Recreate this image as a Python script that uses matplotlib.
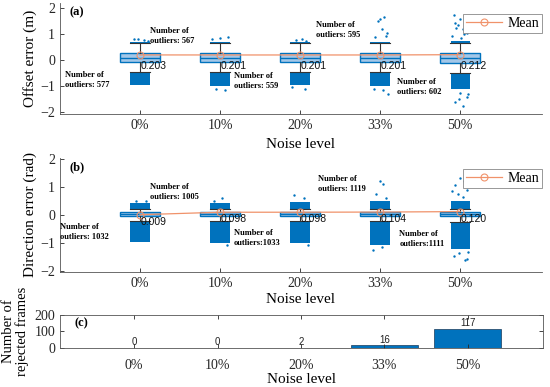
import numpy as np
import matplotlib.pyplot as plt

plt.rcParams['font.family'] = ['Liberation Serif', 'DejaVu Serif']
plt.rcParams['xtick.direction'] = 'in'
plt.rcParams['ytick.direction'] = 'in'

# ---- data ----
levels = ['0%', '10%', '20%', '33%', '50%']

# (a) offset error (m)
off_mean = [0.203, 0.201, 0.201, 0.201, 0.212]
off_q1 = [-0.08, -0.08, -0.08, -0.08, -0.09]
off_med = [0.09, 0.09, 0.09, 0.09, 0.09]
off_q3 = [0.26, 0.26, 0.26, 0.26, 0.26]
off_whislo = [-0.45, -0.45, -0.45, -0.45, -0.48]
off_whishi = [0.65, 0.65, 0.65, 0.65, 0.65]
off_up_lo = [0.65, 0.65, 0.65, 0.65, 0.65]
off_up_hi = [0.72, 0.72, 0.70, 0.72, 0.75]
off_dn_lo = [-0.97, -1.0, -0.96, -1.0, -1.1]
off_dn_hi = [-0.47, -0.47, -0.45, -0.45, -0.5]
off_n_out = ['577', '567', '559', '595', '602']
# sparse outliers: (category index, jitter, value)
off_sparse_cat = [0, 0, 0, 0, 1, 1, 1, 1, 1, 2, 2, 2, 2, 2,
                  3, 3, 3, 3, 3, 3, 3, 3, 3, 3,
                  4, 4, 4, 4, 4, 4, 4, 4, 4, 4, 4, 4, 4, 4, 4, 4, 4, 4]
off_sparse_dx = [-0.08, -0.02, 0.05, 0.1, -0.1, 0.0, 0.1, -0.05, 0.06, -0.05, 0.03, 0.08, 0.06, -0.1,
                 0.0, 0.05, -0.02, 0.09, 0.07, -0.06, 0.04, 0.1, -0.08, 0.02,
                 -0.08, 0.06, 0.0, 0.1, -0.03, 0.03, 0.08, -0.1, 0.05, -0.05, 0.0, 0.09, -0.07,
                 0.04, 0.1, -0.02, -0.06, 0.01]
off_sparse_y = [0.8, 0.82, 0.78, 0.75, 0.8, 0.85, 0.9, -1.1, -1.15, 0.78, 0.8, 0.75, -1.1, -1.05,
                1.6, 1.65, 1.5, 1.05, 0.95, 0.9, -1.15, -1.3, -1.1, 1.2,
                1.75, 1.7, 1.6, 1.5, 1.35, 1.2, 1.05, 0.95, 1.0, 1.25, -1.25, -1.4, -1.6,
                -1.75, -1.3, -1.5, 1.45, 0.85]

# (b) direction error (rad)
dir_mean = [0.009, 0.098, 0.098, 0.104, 0.120]
dir_q1 = [-0.04, -0.04, -0.04, -0.04, -0.05]
dir_med = [0.05, 0.05, 0.05, 0.05, 0.05]
dir_q3 = [0.11, 0.11, 0.11, 0.12, 0.12]
dir_whislo = [-0.2, -0.2, -0.2, -0.2, -0.25]
dir_whishi = [0.2, 0.2, 0.2, 0.2, 0.2]
dir_up_lo = [0.2, 0.2, 0.2, 0.2, 0.2]
dir_up_hi = [0.42, 0.42, 0.45, 0.48, 0.5]
dir_dn_lo = [-0.95, -1.0, -1.0, -1.05, -1.2]
dir_dn_hi = [-0.2, -0.2, -0.2, -0.2, -0.25]
dir_n_out = ['1032', '1005', '1033', '1119', '1111']
dir_sparse_cat = [0, 0, 1, 1, 1, 2, 2, 2, 3, 3, 3, 3, 3, 3,
                  4, 4, 4, 4, 4, 4, 4, 4, 4, 4, 4, 4]
dir_sparse_dx = [-0.05, 0.08, 0.02, -0.07, 0.09, -0.08, 0.05, 0.1, 0.0, 0.04, -0.05, 0.08, 0.02, -0.09,
                 0.0, 0.05, -0.06, 0.08, -0.03, 0.03, 0.1, -0.08, 0.06, -0.02, 0.09, -0.1]
dir_sparse_y = [0.5, 0.48, 0.6, 0.5, -1.05, 0.7, 0.6, -1.05, 1.2, 1.1, 0.75, 0.6, -1.15, -1.25,
                1.3, 1.2, 1.05, 0.9, 0.75, 0.65, -1.3, -1.45, -1.6, -1.35, -1.55, 0.85]

# (c) rejected frames
rejected = [0, 0, 2, 16, 117]

# ---- style ----
blue = '#0072BD'
light = '#a3c7e8'
orange = '#f0926a'
axcol = '#262626'

x = np.arange(1, len(levels) + 1)

fig = plt.figure(figsize=(5.5, 3.87), dpi=100)
ax_a = fig.add_axes([0.109, 0.705, 0.876, 0.287])
ax_b = fig.add_axes([0.109, 0.297, 0.876, 0.295])
ax_c = fig.add_axes([0.109, 0.101, 0.878, 0.085])


def draw_panel(ax, mean, q1, med, q3, wlo, whi, up_lo, up_hi, dn_lo, dn_hi,
               s_cat, s_dx, s_y, n_out, note_pos, ylabel, tag, lab_off, xlpad):
    stats = []
    for i in range(len(levels)):
        stats.append({'med': med[i], 'q1': q1[i], 'q3': q3[i],
                      'whislo': wlo[i], 'whishi': whi[i], 'fliers': []})
    # outlier clouds
    ax.bar(x, np.array(up_hi) - np.array(up_lo), bottom=up_lo, width=0.24,
           color=blue, zorder=1)
    ax.bar(x, np.array(dn_hi) - np.array(dn_lo), bottom=dn_lo, width=0.24,
           color=blue, zorder=1)
    ax.scatter(x[np.array(s_cat)] + np.array(s_dx), s_y, s=3, color=blue,
               linewidths=0, zorder=1)
    ax.bxp(stats, positions=x, widths=0.5, capwidths=0.25, patch_artist=True,
           showfliers=False,
           boxprops=dict(facecolor=light, edgecolor=blue, linewidth=1.0),
           medianprops=dict(color=blue, linewidth=1.0),
           whiskerprops=dict(color='#333333', linewidth=0.8),
           capprops=dict(color='#333333', linewidth=0.8), zorder=2)
    ax.plot(x, mean, color=orange, lw=0.9, marker='o', ms=5, mfc='none',
            mec=orange, mew=0.8, label='Mean', zorder=3)
    for i, m in enumerate(mean):
        ax.annotate(f'{m:.3f}', (x[i], m), xytext=(0.5, lab_off),
                    textcoords='offset points', ha='left', va='center',
                    fontsize=7.5, family='Liberation Sans', color='#111111')
    for i, (nx, ny) in enumerate(note_pos):
        sep = ' ' if len(n_out[i]) < 4 or i in (0, 1, 3) else ''
        ax.text(nx, ny, 'Number of\noutliers:' + sep + n_out[i], fontsize=6,
                fontweight='bold', ha='left', va='center', linespacing=1.3)
    ax.text(0.12, ax.get_ylim()[1] - 0.35, tag, fontsize=9, fontweight='bold',
            va='center')
    ax.set_xticks(x)
    ax.set_xticklabels(levels, fontsize=10)
    ax.set_yticks([-2, -1, 0, 1, 2])
    ax.tick_params(labelsize=10, colors=axcol, length=3, width=0.6)
    ax.set_xlabel('Noise level', fontsize=11, labelpad=xlpad)
    ax.set_ylabel(ylabel, fontsize=11, labelpad=2)
    for s in ('top', 'right'):
        ax.spines[s].set_visible(False)
    for s in ('left', 'bottom'):
        ax.spines[s].set_color('#555555')
        ax.spines[s].set_linewidth(0.6)
    leg = ax.legend(loc='upper right', bbox_to_anchor=(1.015, 0.96), fontsize=10,
                    fancybox=False, framealpha=1, edgecolor='#888888',
                    borderpad=0.2, handlelength=2.6, handletextpad=0.4)
    leg.get_frame().set_linewidth(0.6)


ax_a.set_xlim(0, 6.02)
ax_a.set_ylim(-2.08, 2.2)
draw_panel(ax_a, off_mean, off_q1, off_med, off_q3, off_whislo, off_whishi,
           off_up_lo, off_up_hi, off_dn_lo, off_dn_hi,
           off_sparse_cat, off_sparse_dx, off_sparse_y, off_n_out,
           [(0.06, -0.77), (1.12, 0.94), (2.17, -0.8), (3.2, 1.15), (4.21, -1.04)],
           'Offset error (m)', '(a)', -8, 4)

ax_b.set_xlim(0, 6.02)
ax_b.set_ylim(-2.03, 2.03)
draw_panel(ax_b, dir_mean, dir_q1, dir_med, dir_q3, dir_whislo, dir_whishi,
           dir_up_lo, dir_up_hi, dir_dn_lo, dir_dn_hi,
           dir_sparse_cat, dir_sparse_dx, dir_sparse_y, dir_n_out,
           [(0.0, -0.6), (1.12, 0.82), (2.17, -0.82), (3.22, 1.1), (4.24, -0.86)],
           'Direction error (rad)', '(b)', -5, 2)

# (c) rejected frames
ax_c.bar(x, rejected, width=0.8, color=blue, edgecolor='#1a3a5a', linewidth=0.5)
for xi, v in zip(x, rejected):
    ax_c.text(xi, v + 4, str(v), ha='center', va='bottom', fontsize=7,
              family='Liberation Sans', color='#222222')
ax_c.set_xlim(0.11, 5.9)
ax_c.set_ylim(0, 200)
ax_c.set_xticks(x)
ax_c.set_xticklabels(levels, fontsize=10)
ax_c.set_yticks([0, 100, 200])
ax_c.tick_params(axis='x', pad=8)
ax_c.tick_params(labelsize=10, colors=axcol, length=3, width=0.6,
                 top=True, right=True)
ax_c.text(0.28, 150, '(c)', fontsize=9, fontweight='bold', va='center')
ax_c.set_xlabel('Noise level', fontsize=11, labelpad=1)
ax_c.set_ylabel('Number of\nrejected frames', fontsize=10.5, labelpad=4,
                linespacing=1.0)
for s in ax_c.spines.values():
    s.set_color('#555555')
    s.set_linewidth(0.6)

fig.savefig('out.png', dpi=100)
